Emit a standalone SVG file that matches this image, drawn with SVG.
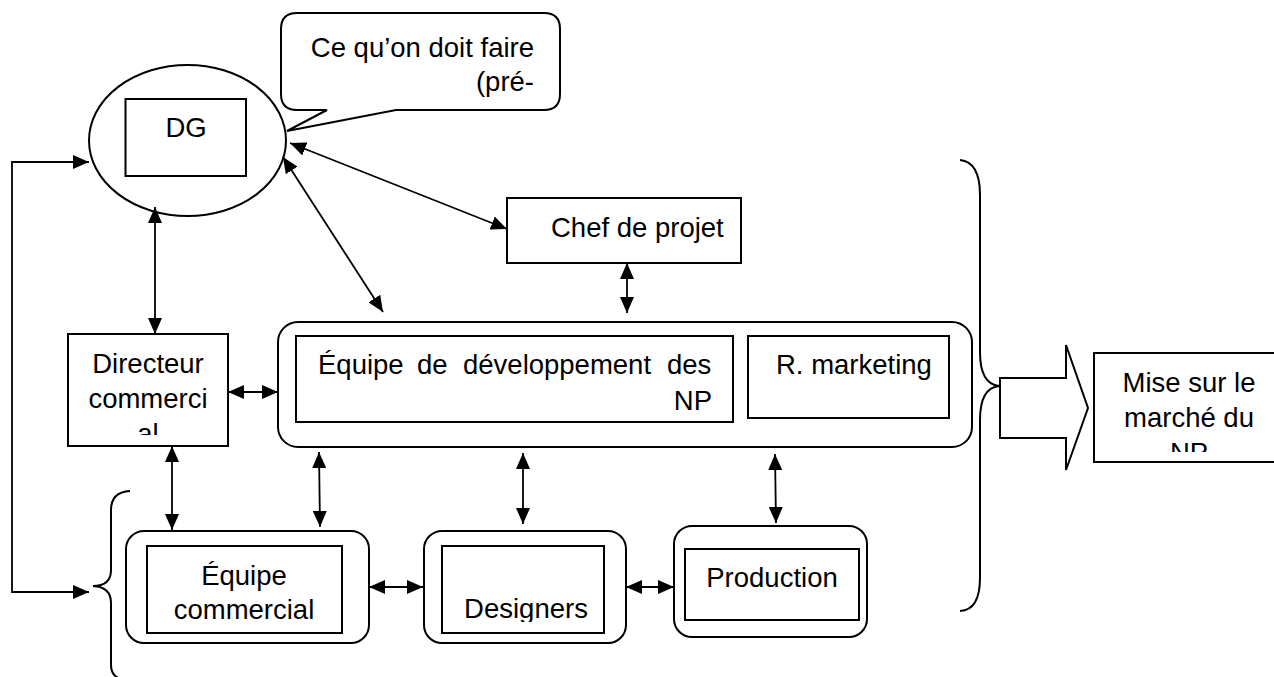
<svg xmlns="http://www.w3.org/2000/svg" width="1274" height="677" viewBox="0 0 1274 677">
<style>
.b{fill:#fff;stroke:#000;stroke-width:2}
.n{fill:none;stroke:#000;stroke-width:2}
.c{fill:none;stroke:#000;stroke-width:1.8}
.t{font-family:"Liberation Sans",Arial,sans-serif;font-size:27.5px;fill:#000}
.m{text-anchor:middle}
.e{text-anchor:end}
</style>
<defs>
<marker id="ah" markerUnits="userSpaceOnUse" markerWidth="16" markerHeight="14" refX="16" refY="7" orient="auto-start-reverse">
<path d="M0,0 L16,7 L0,14 Z" fill="#000"/>
</marker>
<clipPath id="clipDir"><rect x="68" y="334" width="160" height="101"/></clipPath>
<clipPath id="clipMise"><rect x="1094" y="353" width="180" height="99"/></clipPath>
<clipPath id="clipDes"><rect x="442" y="546" width="162" height="76"/></clipPath>
</defs>

<g id="callout">
<path class="b" d="M297,13 H544 Q560,13 560,29 V94 Q560,110 544,110 H396 L287,131 L327,110 H297 Q281,110 281,94 V29 Q281,13 297,13 Z"/>
<text class="t e" x="534" y="57">Ce qu’on doit faire</text>
<text class="t e" x="534" y="91">(pré-</text>
</g>

<g id="dg">
<ellipse class="b" cx="187.5" cy="140.5" rx="98.5" ry="75.5"/>
<rect class="b" x="125.5" y="99" width="120.5" height="77"/>
<text class="t m" x="186" y="137">DG</text>
</g>

<g id="chef">
<rect class="b" x="507" y="198" width="234" height="65"/>
<text class="t" x="551" y="237">Chef de projet</text>
</g>

<g id="directeur">
<rect class="b" x="68" y="334" width="160" height="112"/>
<g clip-path="url(#clipDir)">
<text class="t m" x="148" y="373">Directeur</text>
<text class="t m" x="148" y="408">commerci</text>
<text class="t m" x="148" y="443">al</text>
</g>
</g>

<g id="equipe-dev">
<rect class="b" x="278" y="322" width="694" height="125" rx="20"/>
<rect class="b" x="296" y="336" width="437" height="86"/>
<text class="t" y="374"><tspan x="318">Équipe</tspan><tspan x="417">de</tspan><tspan x="463">développement</tspan><tspan x="667">des</tspan></text>
<text class="t e" x="712" y="410">NP</text>
<rect class="b" x="748" y="336" width="201" height="82"/>
<text class="t" x="776" y="374">R. marketing</text>
</g>

<g id="equipe-commercial">
<rect class="b" x="126" y="531" width="243" height="112" rx="18"/>
<rect class="b" x="147" y="546" width="195" height="87"/>
<text class="t m" x="244" y="585">Équipe</text>
<text class="t m" x="244" y="619">commercial</text>
</g>

<g id="designers">
<rect class="b" x="424" y="531" width="202" height="112" rx="18"/>
<rect class="b" x="442" y="546" width="162" height="87"/>
<text class="t m" x="526" y="618" clip-path="url(#clipDes)">Designers</text>
</g>

<g id="production">
<rect class="b" x="674" y="526" width="193" height="111" rx="18"/>
<rect class="b" x="685" y="549" width="174" height="71"/>
<text class="t m" x="772" y="587">Production</text>
</g>

<g id="brace-left">
<path class="n" d="M130,491 Q111,492 111,510 V570 Q111,586 93,586 Q111,587 111,603 V665 Q111,678 125,680"/>
</g>

<g id="brace-right">
<path class="n" d="M960,160 Q980,162 980,195 V352 Q980,384 999,386 Q980,388 980,420 V578 Q980,610 960,611"/>
</g>

<g id="big-arrow">
<polygon class="b" points="1000,378 1066,378 1066,345 1088,408 1066,470 1066,438 1000,438"/>
</g>

<g id="mise">
<rect class="b" x="1094" y="353" width="200" height="109"/>
<g clip-path="url(#clipMise)">
<text class="t m" x="1189" y="392">Mise sur le</text>
<text class="t m" x="1189" y="427">marché du</text>
<text class="t m" x="1189" y="462">NP</text>
</g>
</g>

<g id="connectors">
<line class="c" x1="290" y1="143" x2="507" y2="229" marker-start="url(#ah)" marker-end="url(#ah)"/>
<line class="c" x1="283" y1="157" x2="383" y2="312" marker-start="url(#ah)" marker-end="url(#ah)"/>
<line class="c" x1="155" y1="207" x2="155" y2="334" marker-start="url(#ah)" marker-end="url(#ah)"/>
<line class="c" x1="627" y1="263" x2="627" y2="313" marker-start="url(#ah)" marker-end="url(#ah)"/>
<line class="c" x1="228" y1="392" x2="278" y2="392" marker-start="url(#ah)" marker-end="url(#ah)"/>
<line class="c" x1="172" y1="446" x2="172" y2="530" marker-start="url(#ah)" marker-end="url(#ah)"/>
<line class="c" x1="319" y1="452" x2="320" y2="527" marker-start="url(#ah)" marker-end="url(#ah)"/>
<line class="c" x1="523" y1="453" x2="523" y2="524" marker-start="url(#ah)" marker-end="url(#ah)"/>
<line class="c" x1="775" y1="454" x2="776" y2="523" marker-start="url(#ah)" marker-end="url(#ah)"/>
<line class="c" x1="369" y1="587" x2="423" y2="587" marker-start="url(#ah)" marker-end="url(#ah)"/>
<line class="c" x1="626" y1="587" x2="674" y2="587" marker-start="url(#ah)" marker-end="url(#ah)"/>
<path class="c" d="M89,162 L12,162 L12,592 L89,592" marker-start="url(#ah)" marker-end="url(#ah)"/>
</g>
</svg>
